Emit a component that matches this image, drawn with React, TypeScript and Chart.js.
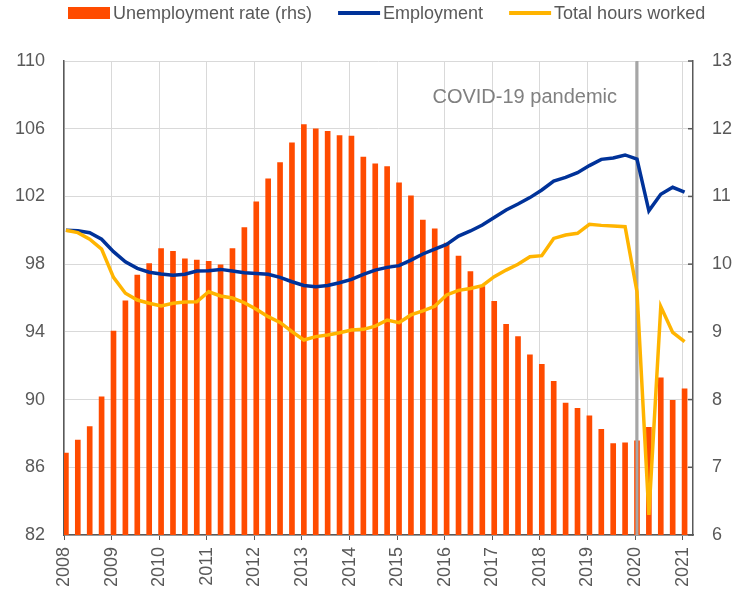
import React, { useEffect, useRef } from "react";
import { Chart, registerables } from "chart.js";

Chart.register(...registerables);

const quarters = [
  "2008Q1", "2008Q2", "2008Q3", "2008Q4",
  "2009Q1", "2009Q2", "2009Q3", "2009Q4",
  "2010Q1", "2010Q2", "2010Q3", "2010Q4",
  "2011Q1", "2011Q2", "2011Q3", "2011Q4",
  "2012Q1", "2012Q2", "2012Q3", "2012Q4",
  "2013Q1", "2013Q2", "2013Q3", "2013Q4",
  "2014Q1", "2014Q2", "2014Q3", "2014Q4",
  "2015Q1", "2015Q2", "2015Q3", "2015Q4",
  "2016Q1", "2016Q2", "2016Q3", "2016Q4",
  "2017Q1", "2017Q2", "2017Q3", "2017Q4",
  "2018Q1", "2018Q2", "2018Q3", "2018Q4",
  "2019Q1", "2019Q2", "2019Q3", "2019Q4",
  "2020Q1", "2020Q2", "2020Q3", "2020Q4",
  "2021Q1",
];

// Unemployment rate (%), right-hand scale
const unemploymentRate = [
  7.21, 7.4, 7.6, 8.04,
  9.01, 9.46, 9.84, 10.01,
  10.23, 10.19, 10.08, 10.06,
  10.04, 9.99, 10.23, 10.54,
  10.92, 11.26, 11.5, 11.79,
  12.06, 12.0, 11.96, 11.9,
  11.89, 11.58, 11.48, 11.44,
  11.2, 11.01, 10.65, 10.52,
  10.31, 10.12, 9.89, 9.67,
  9.45, 9.11, 8.93, 8.66,
  8.52, 8.27, 7.95, 7.87,
  7.76, 7.56, 7.35, 7.36,
  7.39, 7.59, 8.32, 7.99,
  8.16,
];

// Employment index (2008Q1 = 100), left-hand scale
const employment = [
  100.0, 99.97, 99.86, 99.47,
  98.74, 98.14, 97.75, 97.52,
  97.42, 97.34, 97.4, 97.59,
  97.61, 97.69, 97.59, 97.49,
  97.45, 97.4, 97.22, 96.96,
  96.74, 96.67, 96.74, 96.9,
  97.1, 97.4, 97.65, 97.81,
  97.91, 98.24, 98.6, 98.89,
  99.17, 99.66, 99.96, 100.31,
  100.76, 101.2, 101.55, 101.93,
  102.38, 102.91, 103.13, 103.4,
  103.82, 104.19, 104.27, 104.45,
  104.21, 101.15, 102.13, 102.54,
  102.25,
];

// Total hours worked index (2008Q1 = 100), left-hand scale
const totalHoursWorked = [
  100.0, 99.86, 99.47, 98.89,
  97.22, 96.28, 95.88, 95.69,
  95.53, 95.69, 95.76, 95.78,
  96.37, 96.12, 96.0, 95.72,
  95.33, 94.9, 94.56, 94.01,
  93.52, 93.72, 93.81, 93.95,
  94.11, 94.15, 94.34, 94.7,
  94.54, 95.0, 95.24, 95.51,
  96.18, 96.45, 96.56, 96.73,
  97.26, 97.65, 97.99, 98.44,
  98.5, 99.52, 99.72, 99.82,
  100.35, 100.29, 100.25, 100.21,
  96.37, 83.18, 95.49, 93.97,
  93.42,
];

const yearTicks = [
  2008, 2009, 2010, 2011, 2012, 2013, 2014,
  2015, 2016, 2017, 2018, 2019, 2020, 2021,
];

const seriesLabels = ["Unemployment rate (rhs)", "Employment", "Total hours worked"];
const covidStart = "2020Q1";
const covidLabel = "COVID-19 pandemic";

const FONT = "Arial, 'Liberation Sans', Helvetica, sans-serif";
const AXIS_GREY = "#595959";
const GRID_GREY = "#d9d9d9";
const RED = "#ff4b00";
const BLUE = "#003299";
const YELLOW = "#ffb400";

function quarterToX(q: string): number {
  const year = Number(q.slice(0, 4));
  const n = Number(q.slice(5));
  return year + (n - 1) / 4 + 0.04;
}

const covidPlugin = {
  id: "covidLine",
  afterDatasetDraw(chart: any, args: any) {
    if (args.meta.type !== "bar") return;
    const { ctx, chartArea } = chart;
    const x = chart.scales.x.getPixelForValue(quarterToX(covidStart));
    ctx.save();
    ctx.strokeStyle = "#a6a6a6";
    ctx.lineWidth = 3;
    ctx.beginPath();
    ctx.moveTo(x, chartArea.top);
    ctx.lineTo(x, chartArea.bottom);
    ctx.stroke();
    ctx.fillStyle = "#808080";
    ctx.font = `20px ${FONT}`;
    ctx.textAlign = "right";
    ctx.textBaseline = "alphabetic";
    ctx.fillText(covidLabel, x - 20, chartArea.top + 42);
    ctx.restore();
  },
};

const rightTicksPlugin = {
  id: "rightInnerTicks",
  afterDraw(chart: any) {
    const { ctx } = chart;
    const s = chart.scales.y1;
    ctx.save();
    ctx.strokeStyle = AXIS_GREY;
    ctx.lineWidth = 1.5;
    s.ticks.forEach((t: any) => {
      const y = s.getPixelForValue(t.value);
      ctx.beginPath();
      ctx.moveTo(s.left - 5, y);
      ctx.lineTo(s.left, y);
      ctx.stroke();
    });
    ctx.restore();
  },
};

const legendPlugin = {
  id: "customLegend",
  afterDraw(chart: any) {
    const { ctx } = chart;
    ctx.save();
    ctx.font = `18px ${FONT}`;
    ctx.textBaseline = "middle";
    ctx.textAlign = "left";
    let x = 68;
    const yMid = 13;
    chart.data.datasets.forEach((ds: any) => {
      if (ds.type === "bar" || !ds.type) {
        ctx.fillStyle = ds.backgroundColor;
        ctx.fillRect(x, yMid - 6, 42, 12);
      } else {
        ctx.strokeStyle = ds.borderColor;
        ctx.lineWidth = 4;
        ctx.beginPath();
        ctx.moveTo(x, yMid);
        ctx.lineTo(x + 42, yMid);
        ctx.stroke();
      }
      x += 45;
      ctx.fillStyle = AXIS_GREY;
      ctx.fillText(ds.label, x, yMid + 1);
      x += ctx.measureText(ds.label).width + 26;
    });
    ctx.restore();
  },
};

export default function App() {
  const canvasRef = useRef<HTMLCanvasElement | null>(null);

  useEffect(() => {
    if (!canvasRef.current) return;
    const xs = quarters.map(quarterToX);
    const chart = new Chart(canvasRef.current, {
      type: "bar",
      data: {
        datasets: [
          {
            type: "bar",
            label: seriesLabels[0],
            data: xs.map((x, i) => ({ x, y: unemploymentRate[i] })),
            backgroundColor: RED,
            borderWidth: 0,
            barThickness: 5,
            yAxisID: "y1",
            order: 3,
          } as any,
          {
            type: "line",
            label: seriesLabels[1],
            data: xs.map((x, i) => ({ x, y: employment[i] })),
            borderColor: BLUE,
            backgroundColor: BLUE,
            borderWidth: 3.5,
            pointRadius: 0,
            tension: 0,
            yAxisID: "y",
            order: 2,
          },
          {
            type: "line",
            label: seriesLabels[2],
            data: xs.map((x, i) => ({ x, y: totalHoursWorked[i] })),
            borderColor: YELLOW,
            backgroundColor: YELLOW,
            borderWidth: 3.5,
            pointRadius: 0,
            tension: 0,
            yAxisID: "y",
            order: 1,
          },
        ],
      },
      options: {
        animation: false,
        responsive: true,
        maintainAspectRatio: false,
        layout: { padding: { top: 61, left: 0, right: 0, bottom: 0 } },
        plugins: {
          legend: { display: false },
          tooltip: { enabled: false },
        },
        scales: {
          x: {
            type: "linear",
            offset: false,
            min: 2008,
            max: 2021.217,
            afterBuildTicks(scale: any) {
              scale.ticks = yearTicks.map((v) => ({ value: v }));
            },
            afterFit(scale: any) {
              scale.height = 59;
            },
            ticks: {
              autoSkip: false,
              maxRotation: 90,
              minRotation: 90,
              padding: 7,
              color: AXIS_GREY,
              font: { family: FONT, size: 18 },
              callback: (v: any) => String(v),
            },
            grid: {
              offset: false,
              color: GRID_GREY,
              lineWidth: 1,
              drawTicks: true,
              tickLength: 5,
              tickColor: AXIS_GREY,
            },
            border: { display: true, color: AXIS_GREY, width: 1.5 },
          },
          y: {
            type: "linear",
            position: "left",
            min: 82,
            max: 110,
            afterFit(scale: any) {
              scale.width = 64;
            },
            ticks: {
              stepSize: 4,
              padding: 19,
              color: AXIS_GREY,
              font: { family: FONT, size: 18 },
            },
            grid: { color: GRID_GREY, lineWidth: 1, drawTicks: false },
            border: { display: true, color: AXIS_GREY, width: 1.5 },
          },
          y1: {
            type: "linear",
            position: "right",
            min: 6,
            max: 13,
            afterFit(scale: any) {
              scale.width = 43;
            },
            ticks: {
              stepSize: 1,
              padding: 19,
              color: AXIS_GREY,
              font: { family: FONT, size: 18 },
            },
            grid: { display: false, drawTicks: false },
            border: { display: true, color: AXIS_GREY, width: 1.5 },
          },
        },
      } as any,
      plugins: [covidPlugin, rightTicksPlugin, legendPlugin],
    });
    return () => chart.destroy();
  }, []);

  return (
    <div style={{ position: "absolute", left: 0, top: 0, width: 736, height: 594, background: "#fff" }}>
      <canvas ref={canvasRef} />
    </div>
  );
}
